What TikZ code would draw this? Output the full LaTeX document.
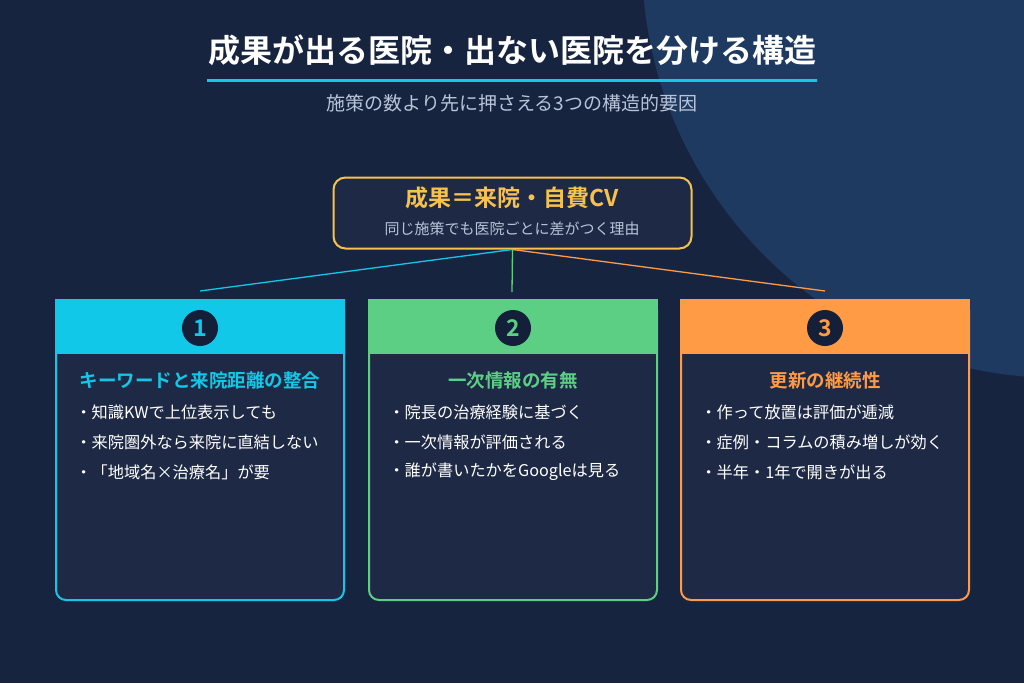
\documentclass[tikz,border=0pt]{standalone}
\usepackage{fontspec}
\setmainfont{Noto Sans CJK JP}
\newfontfamily\jpb{Noto Sans CJK JP Bold}
\definecolor{bg}{HTML}{172440}
\definecolor{bgc}{HTML}{1F3A60}
\definecolor{panel}{HTML}{1E2A45}
\definecolor{cy}{HTML}{12C8E8}
\definecolor{gr}{HTML}{5CCF85}
\definecolor{orc}{HTML}{FF9A45}
\definecolor{yl}{HTML}{F7C24C}
\definecolor{sub}{HTML}{B8C4D8}
\definecolor{dk}{HTML}{14203A}
\begin{document}
\begin{tikzpicture}[x=1pt,y=-1pt,
 card/.style={draw=#1,line width=2pt,fill=panel,rounded corners=10pt},
 numc/.style={circle,fill=dk,minimum size=36pt,inner sep=0,text=#1,font=\jpb\fontsize{23}{23}\selectfont},
 ctitle/.style={text=#1,font=\jpb\fontsize{18.5}{18.5}\selectfont},
 bul/.style={anchor=west,text=white,font=\fontsize{16.2}{16.2}\selectfont}]
\useasboundingbox (0,0) rectangle (1024,683);
\fill[bg] (0,0) rectangle (1024,683);
\begin{scope}
\clip (0,0) rectangle (1024,683);
\fill[bgc] (1060,-40) circle (418);
\end{scope}
\node[text=white,font=\jpb\fontsize{32}{32}\selectfont] (title) at (512,50) {成果が出る医院・出ない医院を分ける構造};
\draw[cy,line width=3pt] (207,80) -- (817,80);
\node[text=sub,font=\fontsize{19}{19}\selectfont] (subt) at (512,103) {施策の数より先に押さえる3つの構造的要因};
\node[draw=yl,line width=2pt,fill=panel,rounded corners=12pt,minimum width=358pt,minimum height=71pt] (top) at (512.5,213) {};
\node[text=yl,font=\jpb\fontsize{23}{23}\selectfont] (tt) at (512,198) {成果＝来院・自費CV};
\node[text=sub,font=\fontsize{15}{15}\selectfont] (ts) at (512,229) {同じ施策でも医院ごとに差がつく理由};
\coordinate (c1) at (200,291); \coordinate (c2) at (512,292); \coordinate (c3) at (825,291);
\draw[cy,line width=1.3pt] (top.south) -- (c1);
\draw[gr,line width=1.3pt] (top.south) -- (c2);
\draw[orc,line width=1.3pt] (top.south) -- (c3);
\foreach \x/\c/\n/\t/\a/\b/\d in {
 56/cy/1/キーワードと来院距離の整合/知識KWで上位表示しても/来院圏外なら来院に直結しない/「地域名×治療名」が要,
 369/gr/2/一次情報の有無/院長の治療経験に基づく/一次情報が評価される/誰が書いたかをGoogleは見る,
 681/orc/3/更新の継続性/作って放置は評価が逓減/症例・コラムの積み増しが効く/半年・1年で開きが出る}{
 \draw[card=\c] (\x,300) -- (\x+288,300) -- (\x+288,600) -- (\x,600) -- cycle;
 \fill[\c] (\x-1,299) rectangle (\x+289,354);
 \node[numc=\c] (n\n) at (\x+144,328) {\n};
 \node[ctitle=\c] (h\n) at (\x+144,380) {\t};
 \node[bul] (a\n) at (\x+16,412) {・\a};
 \node[bul] (b\n) at (\x+16,442) {・\b};
 \node[bul] (d\n) at (\x+16,472) {・\d};
}
\end{tikzpicture}
\end{document}
